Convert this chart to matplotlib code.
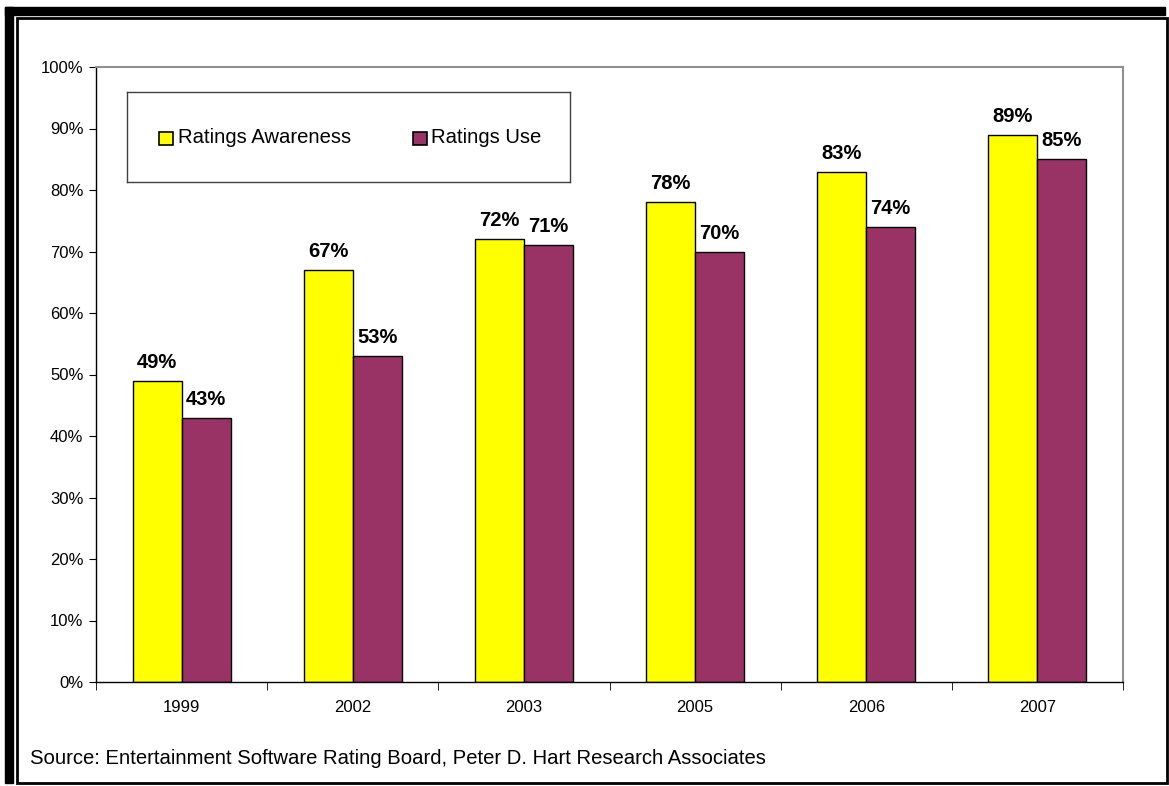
import numpy as np
import matplotlib
matplotlib.use("Agg")
import matplotlib.pyplot as plt
from matplotlib.patches import Rectangle
from matplotlib.ticker import MultipleLocator, FuncFormatter

plt.rcParams['font.family'] = ['Liberation Sans', 'DejaVu Sans']

# data
years = ["1999", "2002", "2003", "2005", "2006", "2007"]
awareness = [49, 67, 72, 78, 83, 89]
use = [43, 53, 71, 70, 74, 85]
series_names = ["Ratings Awareness", "Ratings Use"]

YELLOW = "#FFFF00"
PURPLE = "#993366"

W, H = 1169, 786
fig = plt.figure(figsize=(W / 100, H / 100), dpi=100)

# outer frame: thick offset bar top/left + thin box
fig.patches.append(Rectangle((5 / W, 1 - 15 / H), (1160) / W, 8 / H,
                             transform=fig.transFigure, color="black", zorder=0))
fig.patches.append(Rectangle((5 / W, 1 - 783 / H), 8 / W, (783 - 7) / H,
                             transform=fig.transFigure, color="black", zorder=0))
fig.patches.append(Rectangle((17 / W, 1 - 783 / H), (1167 - 17) / W, (783 - 18) / H,
                             transform=fig.transFigure, fill=False, ec="black", lw=2, zorder=0))

ax = fig.add_axes([96 / W, 1 - 682 / H, (1123 - 96) / W, (682 - 67) / H])

x = np.arange(len(years))
bw = 0.286
ax.bar(x - bw / 2, awareness, bw, color=YELLOW, edgecolor="black", lw=1, zorder=2)
ax.bar(x + bw / 2, use, bw, color=PURPLE, edgecolor="black", lw=1, zorder=2)

for i in range(len(years)):
    ax.text(x[i] - bw / 2, awareness[i] + 2.1, f"{awareness[i]}%", ha="center", va="baseline",
            fontsize=14.5, fontweight="bold")
    ax.text(x[i] + bw / 2, use[i] + 2.1, f"{use[i]}%", ha="center", va="baseline",
            fontsize=14.5, fontweight="bold")

ax.set_xlim(-0.5, len(years) - 0.5)
ax.set_ylim(0, 100)
ax.yaxis.set_major_locator(MultipleLocator(10))
ax.yaxis.set_major_formatter(FuncFormatter(lambda v, p: f"{int(v)}%"))
ax.set_xticks(x)
ax.set_xticklabels(years)
ax.set_xticks(np.arange(-0.5, len(years)), minor=True)
ax.tick_params(axis="x", which="major", length=0, pad=13, labelsize=12)
ax.tick_params(axis="x", which="minor", length=6, direction="out", color="black")
ax.tick_params(axis="y", length=5, direction="out", labelsize=12, pad=4)

for s in ["top", "right"]:
    ax.spines[s].set_color("#909090")
    ax.spines[s].set_linewidth(1.5)
for s in ["left", "bottom"]:
    ax.spines[s].set_color("black")
    ax.spines[s].set_linewidth(1)

# legend
lax = fig.add_axes([127 / W, 1 - 182 / H, (570 - 127) / W, (182 - 92) / H])
lax.set_xlim(0, 1)
lax.set_ylim(0, 1)
lax.set_xticks([])
lax.set_yticks([])
for s in lax.spines.values():
    s.set_color("#404040")
    s.set_linewidth(1)
lx = [0.072, 0.646]
tx = [0.115, 0.686]
for col, lab, xx, tt in zip([YELLOW, PURPLE], series_names, lx, tx):
    lax.add_patch(Rectangle((xx, 0.41), 0.0316, 0.144, facecolor=col, edgecolor="black", lw=1.2))
    lax.text(tt, 0.49, lab, va="center", ha="left", fontsize=14.6)

fig.text(30 / W, 1 - 759 / H, "Source: Entertainment Software Rating Board, Peter D. Hart Research Associates",
         fontsize=14.6, va="center", ha="left")

fig.savefig("out.png", dpi=100)
